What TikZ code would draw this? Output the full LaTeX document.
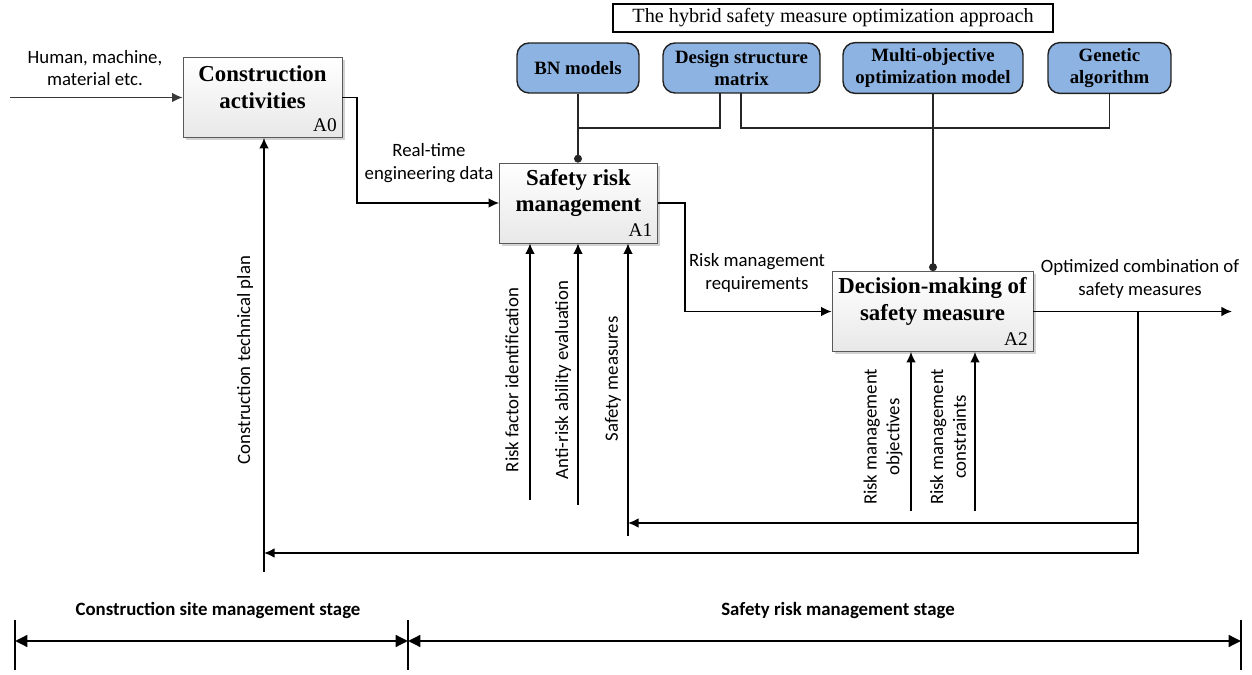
\documentclass[tikz,border=0pt]{standalone}
\usepackage{fontspec}
\setmainfont{Liberation Serif}[BoldFont={Liberation Serif Bold}]
\newfontfamily\labfont{Carlito}[BoldFont={Carlito Bold}]
\usetikzlibrary{arrows.meta,shadows}
\definecolor{toolblue}{RGB}{141,179,226}

\tikzset{
  actbox/.style={draw=gray!70!black, top color=white, bottom color=gray!18,
    drop shadow={shadow xshift=1.5pt, shadow yshift=-1.5pt, fill=gray!70, opacity=.5},
    minimum height=1.6cm},
  acttitle/.style={font=\fontsize{13}{15.3}\selectfont\bfseries, align=center},
  anum/.style={anchor=south east, inner sep=2pt, font=\fontsize{11}{13}\selectfont},
  toolbox/.style={draw=gray!25!black, fill=toolblue, rounded corners=0.24cm, thick,
    minimum height=1cm, align=center, font=\fontsize{10.7}{12.5}\selectfont\bfseries},
  titlebox/.style={draw, line width=0.8pt, minimum width=8.8cm, minimum height=0.56cm,
    inner sep=0pt, font=\fontsize{11.5}{13}\selectfont},
  flow/.style={line width=1pt, -{Latex[length=6pt,width=5.5pt]}},
  link/.style={line width=0.9pt, draw=gray!30!black},
  lab/.style={align=center, font=\labfont\fontsize{10.7}{13}\selectfont},
  stagelab/.style={font=\labfont\fontsize{10.7}{13}\selectfont\bfseries},
  stage/.style={line width=1.7pt, {Triangle[length=7pt,width=6.5pt]}-{Triangle[length=7pt,width=6.5pt]}}
}

\begin{document}
\begin{tikzpicture}[x=0.02cm, y=-0.02cm]
\useasboundingbox (0,0) rectangle (1252,675);

\coordinate (c0) at (262.5,97.5);
\coordinate (c1) at (578.5,203);
\coordinate (c2) at (932.5,311.5);

\node[actbox, minimum width=3.18cm] (act) at (c0) {};
\node[actbox, minimum width=3.16cm] (srm) at (c1) {};
\node[actbox, minimum width=4.02cm] (dec) at (c2) {};
\node[acttitle] (actT) at ([yshift=0.2cm]c0) {Construction\\activities};
\node[acttitle] (srmT) at ([yshift=0.2cm]c1) {Safety risk\\management};
\node[acttitle] (decT) at ([yshift=0.2cm]c2) {Decision-making of\\safety measure};
\node[anum] (actN) at ([xshift=-1pt,yshift=1.5pt]act.south east) {A0};
\node[anum] (srmN) at ([xshift=-1pt,yshift=1.5pt]srm.south east) {A1};
\node[anum] (decN) at ([xshift=-1pt,yshift=1.5pt]dec.south east) {A2};

\node[titlebox] (hyb) at (833,18) {The hybrid safety measure optimization approach};
\node[toolbox, minimum width=2.44cm] (bn) at (578,68) {BN models};
\node[toolbox, minimum width=3.14cm] (dsm) at (741.5,68) {Design structure\\matrix};
\node[toolbox, minimum width=3.6cm] (moo) at (933,68) {Multi-objective\\optimization model};
\node[toolbox, minimum width=2.46cm] (ga) at (1109.5,68) {Genetic\\algorithm};

\coordinate (dsmL) at (720,93);
\coordinate (dsmR) at (741,93);
\coordinate (j1) at (578,128);
\coordinate (j2) at (1109.5,128);
\draw[link] (dsmL) |- (j1);
\draw[link, -{Circle[length=4.5pt]}] (bn.south) -- (bn.south |- srm.north);
\draw[link] (dsmR) |- (j2) -- (ga.south);
\draw[link, -{Circle[length=4.5pt]}] (moo.south) -- (moo.south |- dec.north);

\coordinate (inL) at (10,97.5);
\draw[flow, gray!45!black] (inL) -- (act.west);
\node[lab] (inT) at (95,68) {Human, machine,\\material etc.};
\draw[flow] (act.east) -- ++(15,0) |- (srm.west);
\node[lab] (rtT) at (429,163) {Real-time\\engineering data};
\draw[flow] (srm.east) -- ++(27,0) |- (dec.west);
\node[lab] (rmT) at (757,273) {Risk management\\requirements};
\coordinate (out) at (1232,311.5);
\draw[flow] (dec.east) -- (out);
\node[lab] (ocT) at (1140,279) {Optimized combination of\\safety measures};

\coordinate (fb) at (1138,311.5);
\coordinate (fb1) at (1138,523);
\coordinate (fb2) at (1138,553);
\coordinate (sm) at (628,536);
\coordinate (ctp) at (264,572);
\coordinate (rf) at (530,500);
\coordinate (ar) at (578,505);
\coordinate (obj) at (911,511);
\coordinate (con) at (975,511);
\draw[flow] (fb) -- (fb2) -- (fb2 -| ctp);
\draw[flow] (fb1) -- (fb1 -| sm);
\draw[flow] (ctp) -- (ctp |- act.south);
\draw[flow] (sm) -- (sm |- srm.south);
\draw[flow] (rf) -- (rf |- srm.south);
\draw[flow] (ar) -- (ar |- srm.south);
\draw[flow] (obj) -- (obj |- dec.south);
\draw[flow] (con) -- (con |- dec.south);

\node[lab, rotate=90] (ctpT) at (245,360) {Construction technical plan};
\node[lab, rotate=90] (rfT) at (512,380) {Risk factor identification};
\node[lab, rotate=90] (arT) at (563,380) {Anti-risk ability evaluation};
\node[lab, rotate=90] (smT) at (613,379) {Safety measures};
\node[lab, rotate=90] (objT) at (883,437) {Risk management\\objectives};
\node[lab, rotate=90] (conT) at (948,437) {Risk management\\constraints};

\coordinate (s0) at (15,641);
\coordinate (s1) at (408,641);
\coordinate (s2) at (1241,641);
\foreach \s in {s0,s1,s2}
  \draw[line width=0.6pt] ([yshift=0.42cm]\s) -- ([yshift=-0.58cm]\s);
\draw[stage] (s0) -- (s1);
\draw[stage] (s1) -- (s2);
\node[stagelab] (st1) at (218,610) {Construction site management stage};
\node[stagelab] (st2) at (838,610) {Safety risk management stage};
\end{tikzpicture}
\end{document}
